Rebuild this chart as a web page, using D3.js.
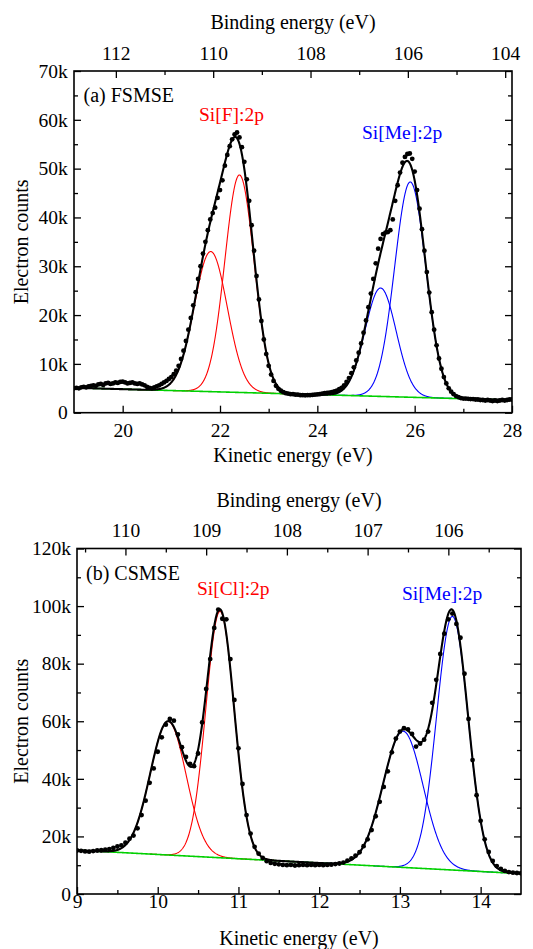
<!DOCTYPE html>
<html>
<head>
<meta charset="utf-8">
<script src="https://cdn.jsdelivr.net/npm/d3@7"></script>
<style>
  html, body { margin: 0; padding: 0; background: #fff; }
</style>
</head>
<body>
<svg id="chart" width="533" height="949"></svg>
<script>
// ---------------- (a) FSMSE : measured Si 2p spectrum [kinetic energy (eV), counts] ----------------
const fsmseSpectrum = [
  [19.00,5000],[19.05,5100],[19.10,5000],[19.15,5200],[19.20,5300],[19.25,5200],[19.30,5400],[19.35,5500],
  [19.40,5600],[19.45,5500],[19.50,5800],[19.55,5900],[19.60,5700],[19.65,6000],[19.70,6100],[19.75,5900],
  [19.80,6000],[19.85,6200],[19.90,6100],[19.95,6300],[20.00,6350],[20.05,6200],[20.10,6000],[20.15,6100],
  [20.20,6200],[20.25,6000],[20.30,5900],[20.35,6000],[20.40,5800],[20.45,5600],[20.50,5300],[20.55,5100],
  [20.60,5000],[20.65,5200],[20.70,5400],[20.75,5600],[20.80,5900],[20.85,6200],[20.90,6500],[20.95,6900],
  [21.00,7300],[21.05,7900],[21.10,8600],[21.15,9600],[21.20,11000],[21.25,12700],[21.30,14700],[21.35,17000],
  [21.40,19400],[21.45,22000],[21.50,24700],[21.55,27400],[21.60,30000],[21.65,32600],[21.70,35000],[21.75,37400],
  [21.80,39600],[21.85,40900],[21.90,42000],[21.95,44000],[22.00,45600],[22.05,47600],[22.10,50600],[22.15,52800],
  [22.20,54600],[22.25,56000],[22.30,57000],[22.35,57400],[22.40,56400],[22.45,54400],[22.50,51400],[22.55,47800],
  [22.60,43400],[22.65,38400],[22.70,33200],[22.75,28000],[22.80,23200],[22.85,18800],[22.90,15000],[22.95,12000],
  [23.00,9600],[23.05,7800],[23.10,6500],[23.15,5500],[23.20,4900],[23.25,4500],[23.30,4200],[23.35,4000],
  [23.40,3900],[23.45,3800],[23.50,3800],[23.55,3700],[23.60,3700],[23.65,3600],[23.70,3600],[23.75,3550],
  [23.80,3600],[23.85,3600],[23.90,3650],[23.95,3700],[24.00,3750],[24.05,3800],[24.10,3900],[24.15,4000],
  [24.20,4050],[24.25,4100],[24.30,4200],[24.35,4350],[24.40,4500],[24.45,4800],[24.50,5100],[24.55,5600],
  [24.60,6300],[24.65,7100],[24.70,8100],[24.75,9300],[24.80,10700],[24.85,12300],[24.90,14200],[24.95,16400],
  [25.00,18900],[25.05,21600],[25.10,24400],[25.15,27400],[25.20,30600],[25.25,33600],[25.30,35600],[25.35,36600],
  [25.40,36900],[25.45,37000],[25.50,37400],[25.55,39600],[25.60,43400],[25.65,46600],[25.70,49200],[25.75,51200],
  [25.80,52400],[25.85,53000],[25.90,53100],[25.95,52000],[26.00,49400],[26.05,45600],[26.10,41800],[26.15,37600],
  [26.20,33200],[26.25,28800],[26.30,24600],[26.35,20600],[26.40,17000],[26.45,13800],[26.50,11100],[26.55,9000],
  [26.60,7300],[26.65,6000],[26.70,5000],[26.75,4300],[26.80,3800],[26.85,3400],[26.90,3200],[26.95,3000],
  [27.00,2900],[27.05,2900],[27.10,2850],[27.15,2800],[27.20,2800],[27.25,2700],[27.30,2700],[27.35,2600],
  [27.40,2600],[27.45,2500],[27.50,2600],[27.55,2500],[27.60,2400],[27.65,2500],[27.70,2400],[27.75,2500],
  [27.80,2600],[27.85,2500],[27.90,2600],[27.95,2700],[28.00,2700]
];
// fitted components: Gaussian peaks on a linear background
const fsmsePeakLabels  = ["Si[F]:2p", "Si[F]:2p", "Si[Me]:2p", "Si[Me]:2p"];
const fsmsePeakCenters = [21.81, 22.40, 25.30, 25.91];     // eV (kinetic)
const fsmsePeakHeights = [28700, 44550, 22200, 44100];     // counts above background
const fsmsePeakSigmas  = [0.34, 0.30, 0.32, 0.32];         // eV
const fsmseBackground  = [[19, 5100], [28, 2580]];         // linear background end points
const fsmsePhotonOffset = 131.86;                          // binding = offset - kinetic
const fsmseKineticTicks = [20, 22, 24, 26, 28];
const fsmseKineticMinor = [21, 23, 25, 27];
const fsmseBindingTicks = [112, 110, 108, 106, 104];
const fsmseBindingMinor = [111, 109, 107, 105];
const fsmseCountTicks   = [0, 10000, 20000, 30000, 40000, 50000, 60000, 70000];
const fsmseCountMinor   = [5000, 15000, 25000, 35000, 45000, 55000, 65000];

// ---------------- (b) CSMSE : measured Si 2p spectrum [kinetic energy (eV), counts] ----------------
const csmseSpectrum = [
  [9.00,15100],[9.05,15000],[9.10,14800],[9.15,14700],[9.20,14900],[9.25,15100],[9.30,15200],[9.35,15400],
  [9.40,15600],[9.45,16000],[9.50,16500],[9.55,16900],[9.60,17800],[9.65,19200],[9.70,20300],[9.75,22800],
  [9.80,27400],[9.85,32400],[9.90,38600],[9.95,43600],[10.00,49400],[10.05,54400],[10.10,58800],[10.15,60800],
  [10.20,60200],[10.25,55400],[10.30,51000],[10.35,47600],[10.40,45200],[10.45,44400],[10.50,48800],[10.55,59600],
  [10.60,71200],[10.65,81600],[10.70,92400],[10.75,98800],[10.80,95600],[10.85,95400],[10.90,81600],[10.95,67400],
  [11.00,50600],[11.05,38200],[11.10,27400],[11.15,21000],[11.20,16400],[11.25,14000],[11.30,12500],[11.35,11400],
  [11.40,10800],[11.45,10500],[11.50,10300],[11.55,10100],[11.60,10000],[11.65,10100],[11.70,9900],[11.75,10000],
  [11.80,10100],[11.85,10000],[11.90,10100],[11.95,10000],[12.00,10100],[12.05,10000],[12.10,10100],[12.15,10200],
  [12.20,10400],[12.25,10600],[12.30,10900],[12.35,11600],[12.40,12400],[12.45,13300],[12.50,14500],[12.55,16600],
  [12.60,19000],[12.65,22200],[12.70,27000],[12.75,32000],[12.80,37200],[12.85,42600],[12.90,49200],[12.95,54000],
  [13.00,56400],[13.05,57600],[13.10,57200],[13.15,55600],[13.20,51200],[13.25,52200],[13.30,53600],[13.35,56400],
  [13.40,66400],[13.45,74400],[13.50,83400],[13.55,90400],[13.60,95400],[13.65,97400],[13.70,93800],[13.75,89000],
  [13.80,76500],[13.85,60800],[13.90,46500],[13.95,34300],[14.00,25400],[14.05,19000],[14.10,14600],[14.15,11500],
  [14.20,9700],[14.25,8700],[14.30,8000],[14.35,7600],[14.40,7400],[14.45,7300],[14.50,7200]
];
const csmsePeakLabels  = ["Si[Cl]:2p", "Si[Cl]:2p", "Si[Me]:2p", "Si[Me]:2p"];
const csmsePeakCenters = [10.13, 10.772, 13.04, 13.65];
const csmsePeakHeights = [46400, 85600, 47300, 88100];
const csmsePeakSigmas  = [0.222, 0.175, 0.248, 0.195];
const csmseBackground  = [[9, 15210], [14.5, 7070]];
const csmsePhotonOffset = 119.6;
const csmseKineticTicks = [9, 10, 11, 12, 13, 14];
const csmseKineticMinor = [9.5, 10.5, 11.5, 12.5, 13.5];
const csmseBindingTicks = [110, 109, 108, 107, 106];
const csmseBindingMinor = [110.5, 109.5, 108.5, 107.5, 106.5, 105.5];
const csmseCountTicks   = [0, 20000, 40000, 60000, 80000, 100000, 120000];
const csmseCountMinor   = [10000, 30000, 50000, 70000, 90000, 110000];

// ---------------- drawing ----------------
const FONT = "'Liberation Serif', 'Times New Roman', Tinos, 'DejaVu Serif', serif";
const svg = d3.select("#chart").style("font-family", FONT);
const componentColor = label => (label.indexOf("Me") >= 0 ? "#0000ff" : "#ff0000");
const countFormat = d => (d === 0 ? "0" : d / 1000 + "k");

function addText(parent, str, size, color) {
  return parent.append("text").text(str)
    .style("font-family", FONT).style("font-size", size + "px").style("fill", color || "#000");
}

function drawPanel(p) {
  const g = svg.append("g");
  const ke0 = p.spectrum[0][0], ke1 = p.spectrum[p.spectrum.length - 1][0];
  const x = d3.scaleLinear().domain([ke0, ke1]).range([p.left, p.right]);
  const xb = d3.scaleLinear().domain([p.photon - ke0, p.photon - ke1]).range([p.left, p.right]);
  const y = d3.scaleLinear().domain([0, p.countMax]).range([p.bottom, p.top]);

  const bgScale = d3.scaleLinear().domain([p.background[0][0], p.background[1][0]])
                    .range([p.background[0][1], p.background[1][1]]);
  const gauss = (E, i) => p.heights[i] * Math.exp(-((E - p.centers[i]) ** 2) / (2 * p.sigmas[i] ** 2));
  const grid = d3.range(ke0, ke1 + 1e-9, 0.005);

  const clipId = "clip-" + p.name;
  svg.append("clipPath").attr("id", clipId)
    .append("rect").attr("x", p.left).attr("y", p.top)
    .attr("width", p.right - p.left).attr("height", p.bottom - p.top);
  const plot = g.append("g").attr("clip-path", `url(#${clipId})`);
  const line = d3.line().x(d => x(d[0])).y(d => y(d[1]));

  // individual components (each sitting on the background)
  p.centers.forEach((c, i) => {
    const pts = grid.filter(E => Math.abs(E - c) < 5 * p.sigmas[i]).map(E => [E, bgScale(E) + gauss(E, i)]);
    plot.append("path").attr("d", line(pts)).attr("fill", "none")
      .attr("stroke", componentColor(p.labels[i])).attr("stroke-width", 1.1);
  });
  // background
  plot.append("path").attr("d", line(grid.map(E => [E, bgScale(E)])))
    .attr("fill", "none").attr("stroke", "#00d000").attr("stroke-width", 1.6);
  // total fit envelope
  plot.append("path")
    .attr("d", line(grid.map(E => [E, bgScale(E) + p.centers.reduce((s, c, i) => s + gauss(E, i), 0)])))
    .attr("fill", "none").attr("stroke", "#000").attr("stroke-width", 2.1);
  // measured points
  plot.selectAll("circle").data(p.spectrum).join("circle")
    .attr("cx", d => x(d[0])).attr("cy", d => y(d[1])).attr("r", 2.4).attr("fill", "#000");

  // axes with inward ticks
  const styleAxis = sel => {
    sel.select(".domain").remove();
    sel.attr("font-family", FONT).attr("font-size", p.tickFont);
    sel.selectAll("line").attr("stroke", "#000").attr("stroke-width", 1.3);
    sel.selectAll("text").style("font-family", FONT).style("font-size", p.tickFont + "px").style("fill", "#000");
  };
  const addAxis = (axis, transform) => g.append("g").attr("transform", transform).call(axis).call(styleAxis);

  addAxis(d3.axisBottom(x).tickValues(p.keTicks).tickSizeInner(-7).tickSizeOuter(0)
          .tickPadding(p.bottomPad).tickFormat(d3.format("d")), `translate(0,${p.bottom})`);
  addAxis(d3.axisBottom(x).tickValues(p.keMinor).tickSizeInner(-4).tickSizeOuter(0).tickFormat(""),
          `translate(0,${p.bottom})`);
  addAxis(d3.axisTop(xb).tickValues(p.beTicks).tickSizeInner(-7).tickSizeOuter(0)
          .tickPadding(p.topPad).tickFormat(d3.format("d")), `translate(0,${p.top})`);
  addAxis(d3.axisTop(xb).tickValues(p.beMinor).tickSizeInner(-4).tickSizeOuter(0).tickFormat(""),
          `translate(0,${p.top})`);
  addAxis(d3.axisLeft(y).tickValues(p.countTicks).tickSizeInner(-7).tickSizeOuter(0)
          .tickPadding(p.leftPad).tickFormat(countFormat), `translate(${p.left},0)`);
  addAxis(d3.axisLeft(y).tickValues(p.countMinor).tickSizeInner(-4).tickSizeOuter(0).tickFormat(""),
          `translate(${p.left},0)`);
  addAxis(d3.axisRight(y).tickValues(p.countTicks).tickSizeInner(-7).tickSizeOuter(0).tickFormat(""),
          `translate(${p.right},0)`);
  addAxis(d3.axisRight(y).tickValues(p.countMinor).tickSizeInner(-4).tickSizeOuter(0).tickFormat(""),
          `translate(${p.right},0)`);

  // frame
  g.append("rect").attr("x", p.left).attr("y", p.top)
    .attr("width", p.right - p.left).attr("height", p.bottom - p.top)
    .attr("fill", "none").attr("stroke", "#000").attr("stroke-width", 1.6);

  // axis titles
  const cx = (p.left + p.right) / 2;
  addText(g, "Binding energy (eV)", 20).attr("x", cx).attr("y", p.topTitleY).attr("text-anchor", "middle");
  addText(g, "Kinetic energy (eV)", 20).attr("x", cx).attr("y", p.bottomTitleY).attr("text-anchor", "middle");
  addText(g, "Electron counts", 20).attr("text-anchor", "middle")
    .attr("transform", `translate(${p.yTitleX},${(p.top + p.bottom) / 2}) rotate(-90)`);

  // panel tag and component labels
  addText(g, p.tag[0], 20).attr("x", p.tag[1]).attr("y", p.tag[2]);
  p.annotations.forEach(a => {
    addText(g, a[0], 19.5, componentColor(a[0])).attr("x", a[1]).attr("y", a[2]);
  });
}

drawPanel({
  name: "fsmse", spectrum: fsmseSpectrum, labels: fsmsePeakLabels,
  centers: fsmsePeakCenters, heights: fsmsePeakHeights, sigmas: fsmsePeakSigmas,
  background: fsmseBackground, photon: fsmsePhotonOffset,
  keTicks: fsmseKineticTicks, keMinor: fsmseKineticMinor,
  beTicks: fsmseBindingTicks, beMinor: fsmseBindingMinor,
  countTicks: fsmseCountTicks, countMinor: fsmseCountMinor, countMax: 70000,
  left: 74, right: 512, top: 71, bottom: 412.7,
  tickFont: 19.5, bottomPad: 10.2, topPad: 11, leftPad: 6.3,
  topTitleY: 28.5, bottomTitleY: 461.5, yTitleX: 28,
  tag: ["(a) FSMSE", 83.5, 101.5],
  annotations: [["Si[F]:2p", 199, 121], ["Si[Me]:2p", 362, 139]]
});

drawPanel({
  name: "csmse", spectrum: csmseSpectrum, labels: csmsePeakLabels,
  centers: csmsePeakCenters, heights: csmsePeakHeights, sigmas: csmsePeakSigmas,
  background: csmseBackground, photon: csmsePhotonOffset,
  keTicks: csmseKineticTicks, keMinor: csmseKineticMinor,
  beTicks: csmseBindingTicks, beMinor: csmseBindingMinor,
  countTicks: csmseCountTicks, countMinor: csmseCountMinor, countMax: 120000,
  left: 77, right: 521, top: 548.5, bottom: 894,
  tickFont: 19.5, bottomPad: 0.5, topPad: 11.5, leftPad: 6,
  topTitleY: 507, bottomTitleY: 945, yTitleX: 28,
  tag: ["(b) CSMSE", 86, 580],
  annotations: [["Si[Cl]:2p", 197, 595], ["Si[Me]:2p", 402, 600]]
});
</script>
</body>
</html>
